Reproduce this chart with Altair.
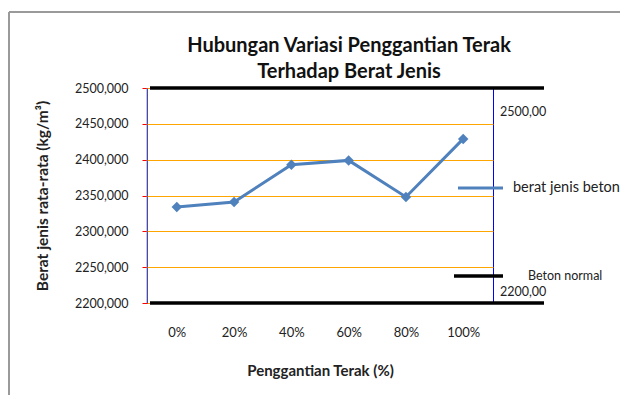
import altair as alt
import pandas as pd

categories = ["0%", "20%", "40%", "60%", "80%", "100%"]
berat_jenis = [2334, 2341, 2393, 2399, 2348, 2429]
normal_values = [2500, 2200]
normal_labels = ["2500,00", "2200,00"]
legend_labels = ["berat jenis beton", "Beton normal"]
y_ticks = [2200, 2250, 2300, 2350, 2400, 2450, 2500]

FONT = "Lato"
BLUE = "#4F81BD"
GRID = "#8C8C8C"

df = pd.DataFrame({"cat": categories, "val": berat_jenis})
dn = pd.DataFrame({"val": normal_values, "lab": normal_labels})

W, H = 346, 215

xaxis = alt.Axis(title="Penggantian Terak (%)", labelAngle=0, domain=False, ticks=False, grid=False,
                 labelFontSize=13, labelPadding=23, labelColor="#222", labelFont=FONT,
                 titleFont=FONT, titleFontSize=15, titleFontWeight="bold", titleColor="#222",
                 titlePadding=24)
xscale = alt.Scale(type="point", padding=0.52)
yscale = alt.Scale(domain=[2200, 2500], nice=False, zero=False)
yaxis = alt.Axis(title="Berat jenis rata-rata (kg/m³)", values=y_ticks, labelOverlap=False,
                 labelExpr="replace(format(datum.value, '.3f'), '.', ',')",
                 labelFontSize=12.5, labelFont=FONT, labelColor="#222", labelPadding=14,
                 tickSize=5, tickColor="red", domain=False, gridColor="orange", grid=True,
                 titleFont=FONT, titleFontSize=15.5, titleFontWeight="bold", titleColor="#222",
                 titlePadding=24)


def X():
    return alt.X("cat:N", sort=categories, scale=xscale, axis=xaxis)


def Y():
    return alt.Y("val:Q", scale=yscale, axis=yaxis)


line = alt.Chart(df).mark_line(color=BLUE, strokeWidth=3).encode(x=X(), y=Y())
pts = alt.Chart(df).mark_point(shape="diamond", filled=True, color=BLUE, size=110, opacity=1).encode(
    x=X(), y=Y())

normal = alt.Chart(dn).mark_rule(color="black", strokeWidth=3.5).encode(
    y=Y(), x=alt.value(3), x2=alt.value(397))
lab_top = alt.Chart(dn).transform_filter(alt.datum.val == 2500).mark_text(
    align="left", baseline="middle", dy=24, font=FONT, fontSize=12.5, color="#222").encode(
    y=Y(), x=alt.value(353), text="lab:N")
lab_bot = alt.Chart(dn).transform_filter(alt.datum.val == 2200).mark_text(
    align="left", baseline="middle", dy=-11, font=FONT, fontSize=12.5, color="#222").encode(
    y=Y(), x=alt.value(353), text="lab:N")

leg1_line = alt.Chart(pd.DataFrame({"l": [legend_labels[0]]})).mark_rule(color=BLUE, strokeWidth=3).encode(
    x=alt.value(311), x2=alt.value(356), y=alt.value(100), y2=alt.value(100))
leg1_text = alt.Chart(pd.DataFrame({"l": [legend_labels[0]]})).mark_text(
    align="left", baseline="middle", font=FONT, fontSize=14.5, color="#222").encode(
    x=alt.value(366), y=alt.value(100), text="l:N")
leg2_line = alt.Chart(pd.DataFrame({"l": [legend_labels[1]]})).mark_rule(color="black", strokeWidth=3.5).encode(
    x=alt.value(307), x2=alt.value(356), y=alt.value(188), y2=alt.value(188))
leg2_text = alt.Chart(pd.DataFrame({"l": [legend_labels[1]]})).mark_text(
    align="left", baseline="middle", font=FONT, fontSize=12.5, color="#222").encode(
    x=alt.value(381), y=alt.value(188), text="l:N")

frame_top = alt.Chart(pd.DataFrame({"l": ["frame"]})).mark_rule(color="#9a9a9a", strokeWidth=2).encode(
    x=alt.value(-138), x2=alt.value(480), y=alt.value(-76), y2=alt.value(-76))
frame_left = alt.Chart(pd.DataFrame({"l": ["frame"]})).mark_rule(color="#9a9a9a", strokeWidth=2).encode(
    x=alt.value(-138), x2=alt.value(-138), y=alt.value(-76), y2=alt.value(320))
y_domain = alt.Chart(pd.DataFrame({"l": ["axis"]})).mark_rule(color=GRID, strokeWidth=1).encode(
    x=alt.value(0), x2=alt.value(0), y=alt.value(0), y2=alt.value(H))

chart = alt.layer(
    frame_top, frame_left, y_domain, line, normal, pts, lab_top, lab_bot,
    leg1_line, leg1_text, leg2_line, leg2_text
).properties(
    width=W, height=H,
    background="white",
    title=alt.TitleParams(text=["Hubungan Variasi Penggantian Terak", "Terhadap Berat Jenis"],
                          font=FONT, fontSize=20, fontWeight="bold", color="#111",
                          anchor="middle", dx=29, dy=83, offset=12, lineHeight=26),
    autosize=alt.AutoSizeParams(type="none"),
    padding={"left": 139, "top": 80, "right": 127, "bottom": 92},
).configure_view(stroke="blue", strokeWidth=1).configure_axisX(grid=False)

chart.save("out.html", embed_options={"renderer": "svg", "actions": False})
